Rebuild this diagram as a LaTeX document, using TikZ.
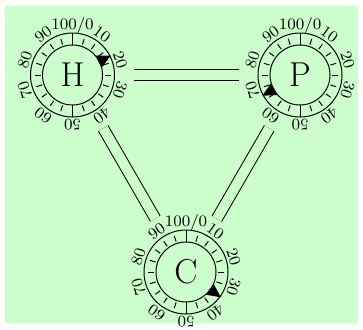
\documentclass[tikz,border=0pt]{standalone}
\definecolor{bggreen}{HTML}{CCFFCC}
\tikzset{
  dial/.style={circle,minimum size=61pt,inner sep=0pt,font=\LARGE},
  link/.style={double=bggreen,double distance=5pt,line width=0.5pt},
  ticklabel/.style={font=\footnotesize,inner sep=0pt},
}
\begin{document}
\begin{tikzpicture}[x=0.5pt,y=0.5pt,line width=0.5pt]
    \useasboundingbox (0,0) rectangle (363,329);
    \fill [bggreen] (5,6) rectangle (358,323);

    \foreach \nm/\cx/\cy/\ptr in {H/72.5/254/17.5,P/300/254/67,C/186/57/35} {
        \node [dial] (\nm) at (\cx,\cy) {\nm};
        \begin{scope}[shift={(\cx,\cy)}]
            \draw (0,0) circle (30) (0,0) circle (42);
            \foreach \k in {0,5,...,95}
                \draw (90-3.6*\k:32)--(90-3.6*\k:38);
            \draw (90:30)--(90:42) (270:30)--(270:42);
            \foreach \k in {0,...,9}
                \node [ticklabel,rotate=-36*\k] at (90-36*\k:50) {\ifnum\k=0 100/0\else\k0\fi};
            \fill (77-3.6*\ptr:30)--(90-3.6*\ptr:43)--(103-3.6*\ptr:30)--cycle;
        \end{scope}
    }

    \draw [link] (H)--(P);
    \draw [link] (H)--(C);
    \draw [link] (P)--(C);
\end{tikzpicture}
\end{document}
